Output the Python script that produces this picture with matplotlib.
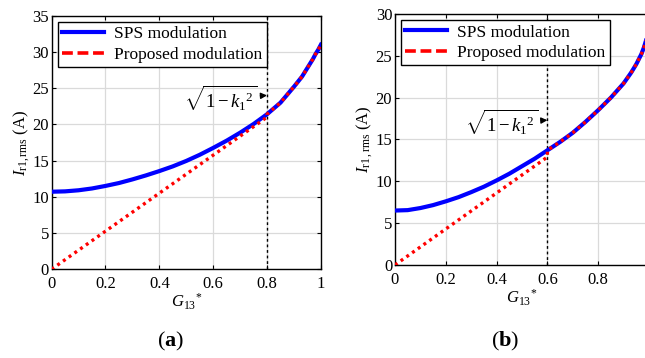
import numpy as np
import matplotlib
matplotlib.use('Agg')
import matplotlib.pyplot as plt
from matplotlib.lines import Line2D

plt.rcParams['font.family'] = ['Liberation Serif', 'DejaVu Serif']
plt.rcParams['mathtext.fontset'] = 'custom'
plt.rcParams['mathtext.rm'] = 'Liberation Serif'
plt.rcParams['mathtext.it'] = 'Liberation Serif:italic'
plt.rcParams['mathtext.bf'] = 'Liberation Serif:bold'

# ---- data ----
# (a) k1 = 0.6  -> sqrt(1-k1^2) = 0.8
g_a = [0.0, 0.05, 0.1, 0.15, 0.2, 0.25, 0.3, 0.35, 0.4, 0.45, 0.5, 0.55, 0.6,
       0.65, 0.7, 0.75, 0.8, 0.85, 0.9, 0.93, 0.95, 0.97, 0.98, 0.99, 1.0]
sps_a = [10.7, 10.75, 10.9, 11.15, 11.5, 11.9, 12.4, 12.95, 13.55, 14.2, 14.95,
         15.8, 16.75, 17.75, 18.85, 20.05, 21.4, 23.0, 25.2, 26.6, 27.8, 29.0,
         29.7, 30.3, 31.0]
prop_a_g = [0.0, 0.8, 0.8, 0.85, 0.9, 0.93, 0.95, 0.97, 0.98, 0.99, 1.0]
prop_a = [0.0, 21.0, 21.4, 23.0, 25.2, 26.6, 27.8, 29.0, 29.7, 30.3, 31.0]
knee_a = 0.8

# (b) k1 = 0.8  -> sqrt(1-k1^2) = 0.6
g_b = [0.0, 0.05, 0.1, 0.15, 0.2, 0.25, 0.3, 0.35, 0.4, 0.45, 0.5, 0.55, 0.6,
       0.65, 0.7, 0.75, 0.8, 0.85, 0.9, 0.93, 0.95, 0.97, 0.98, 1.0]
sps_b = [6.5, 6.55, 6.8, 7.15, 7.6, 8.1, 8.7, 9.35, 10.1, 10.9, 11.8, 12.7, 13.7,
         14.7, 15.8, 17.1, 18.5, 20.0, 21.7, 23.0, 24.0, 25.2, 26.0, 28.0]
prop_b_g = [0.0, 0.6, 0.6, 0.65, 0.7, 0.75, 0.8, 0.85, 0.9, 0.93, 0.95, 0.97,
            0.98, 1.0]
prop_b = [0.0, 12.9, 13.7, 14.7, 15.8, 17.1, 18.5, 20.0, 21.7, 23.0, 24.0, 25.2,
          26.0, 28.0]
knee_b = 0.6

blue = '#0000ff'
red = '#ff0000'
fs = 12

fig = plt.figure(figsize=(6.45, 3.58), dpi=100)
ax1 = fig.add_axes([0.080, 0.248, 0.4175, 0.708])
ax2 = fig.add_axes([0.6124, 0.260, 0.3938, 0.701])


def style_axis(ax, ymax, xticks, xlabels, ylabel):
    ax.set_xlim(0, 1)
    ax.set_ylim(0, ymax)
    ax.set_xticks(xticks)
    ax.set_xticklabels(xlabels)
    ax.set_yticks(np.arange(0, ymax + 1, 5))
    ax.tick_params(direction='in', top=True, right=True, length=3,
                   labelsize=fs, width=0.8)
    ax.tick_params(axis='x', pad=5)
    ax.tick_params(axis='y', pad=2)
    ax.grid(True, color='#dadada', linewidth=0.9)
    ax.set_axisbelow(True)
    for s in ax.spines.values():
        s.set_linewidth(1.0)
    ax.set_ylabel(ylabel, fontsize=fs, labelpad=0)
    ax.set_xlabel(r'$G_{13}{}^{*}$', fontsize=fs, labelpad=0)


def draw(ax, g, sps, pg, prop, knee, txt_xy, arrow_y):
    ax.plot(g, sps, color=blue, linewidth=3.0, solid_joinstyle='round', zorder=3)
    ax.plot(pg, prop, color=red, linewidth=2.4, linestyle=(0, (0.9, 1.2)),
            zorder=4)
    ax.axvline(knee, color='black', linestyle=(0, (2, 2)), linewidth=1.0,
               zorder=2)
    ax.annotate(r'$\sqrt{1-k_1{}^2}$', xy=(knee, arrow_y), xytext=txt_xy,
                fontsize=fs + 1.5, ha='right', va='center',
                arrowprops=dict(arrowstyle='-|>', color='black', lw=1.0,
                                mutation_scale=9, shrinkA=0, shrinkB=0))
    handles = [Line2D([], [], color=blue, linewidth=3.0),
               Line2D([], [], color=red, linewidth=2.6, linestyle=(0, (3, 1.3)))]
    leg = ax.legend(handles, ['SPS modulation', 'Proposed modulation'],
                    loc='upper left', fontsize=fs + 0.5, frameon=True,
                    fancybox=False, edgecolor='black', borderaxespad=0.35,
                    handlelength=2.4, handletextpad=0.6, borderpad=0.25,
                    labelspacing=0.25)
    leg.get_frame().set_linewidth(1.0)
    leg.get_frame().set_alpha(1.0)


style_axis(ax1, 35, [0, 0.2, 0.4, 0.6, 0.8, 1.0],
           ['0', '0.2', '0.4', '0.6', '0.8', '1'], r'$I_{\mathrm{r1,rms}}$ (A)')
draw(ax1, g_a, sps_a, prop_a_g, prop_a, knee_a, (0.765, 23.6), 24.0)

style_axis(ax2, 30, [0, 0.2, 0.4, 0.6, 0.8],
           ['0', '0.2', '0.4', '0.6', '0.8'], r'$I_{\mathrm{r1\,,rms}}$ (A)')
draw(ax2, g_b, sps_b, prop_b_g, prop_b, knee_b, (0.565, 17.0), 17.3)

fig.text(0.265, 0.045, r'($\mathbf{a}$)', fontsize=16, ha='center', va='center')
fig.text(0.783, 0.045, r'($\mathbf{b}$)', fontsize=16, ha='center', va='center')

fig.savefig('out.png', dpi=100)
